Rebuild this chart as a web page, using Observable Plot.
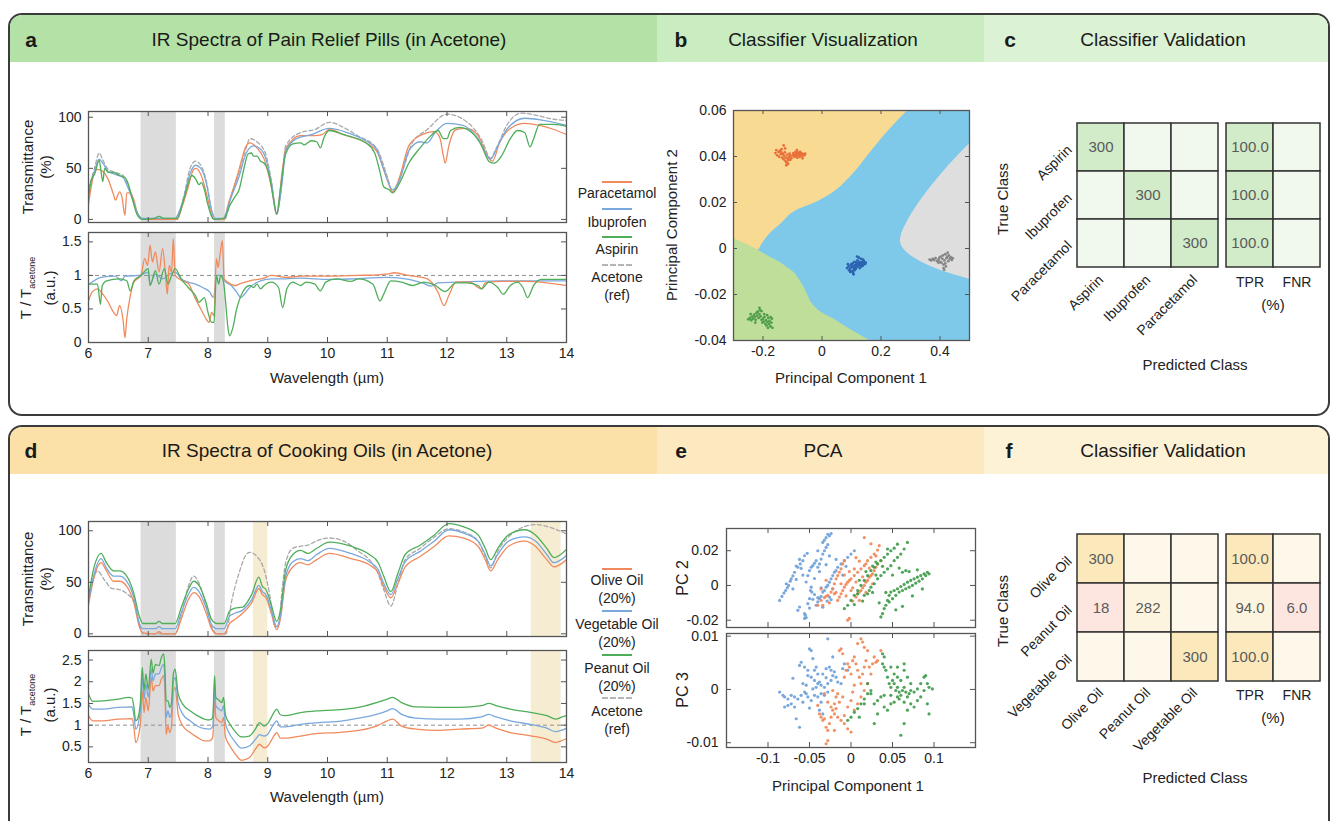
<!DOCTYPE html>
<html><head><meta charset="utf-8">
<script src="https://cdn.jsdelivr.net/npm/d3@7"></script>
<script src="https://cdn.jsdelivr.net/npm/@observablehq/plot@0.6"></script>
<style>
body{margin:0;width:1331px;height:821px;overflow:hidden;background:#fff;font-family:"Liberation Sans",Arial,sans-serif;color:#1a1a1a;position:relative}
.box{position:absolute;box-sizing:border-box;border:2px solid #3b3b3b;border-radius:14px;overflow:hidden;background:#fff}
.band{position:absolute;top:0;height:47px}
.hd{position:absolute;font-size:19px;transform:translate(-50%,-50%);white-space:nowrap}
.lt{position:absolute;font-size:21px;font-weight:bold;transform:translate(-50%,-50%)}
.lab{position:absolute;font-size:15px;white-space:nowrap;transform:translate(-50%,-50%);text-align:center;line-height:18px;color:#222}
.rot{transform:translate(-50%,-50%) rotate(-90deg)}
.leg{position:absolute;font-size:14px;white-space:nowrap;transform:translate(-50%,-50%);text-align:center;line-height:18px;color:#222}
.sw{position:absolute;height:0;width:30px;border-top:2px solid}
.chart{position:absolute}
.chart svg{overflow:visible;max-width:none}
sub{font-size:9px}
</style></head><body>
<div id="root"></div>
<script>
// ---------------- DATA ----------------
const xTicksWL = [6,7,8,9,10,11,12,13,14];
const transTicks = [0,50,100];
const ratioTicksA = [0,0.5,1,1.5];
const ratioTicksD = [0.5,1,1.5,2,2.5];
const refLevel = [1];
const shadeGray = [[6.88,7.47],[8.11,8.29]];
const shadeBeige = [[8.76,9.0],[13.41,13.91]];

// Panel a – transmittance (%) : [wavelength, value, ...]
const paracetamolT = [6,15,6.09,44,6.15,49,6.24,47,6.33,39,6.42,24,6.45,19,6.52,27,6.56,22,6.61,4,6.64,26,6.7,26,6.76,19,6.82,6,6.91,0,7.2,0,7.48,0,7.57,13,7.67,32,7.76,49,7.8,50,7.88,44,8.0,19,8.06,4,8.1,0,8.28,0,8.33,13,8.42,29,8.52,49,8.64,72,8.7,75,8.82,70,8.94,59,9.06,32,9.15,5,9.24,46,9.3,69,9.55,82,9.79,82,9.91,83,10.03,88,10.27,83,10.64,75,10.82,67,11.0,39,11.09,27,11.21,42,11.36,72,11.55,82,11.79,86,11.88,80,11.94,62,11.97,55,12.03,72,12.15,88,12.33,89,12.52,82,12.7,60,12.76,57,12.88,75,13.06,89,13.3,94,13.55,92,13.79,88,14,83];
const ibuprofenT = [6,30,6.09,45,6.18,59,6.24,55,6.33,47,6.45,44,6.58,41,6.64,34,6.73,21,6.82,6,6.91,1,7.2,1,7.45,1,7.48,3,7.6,22,7.7,45,7.79,53,7.88,50,7.97,36,8.06,9,8.12,1,8.26,1,8.28,3,8.39,22,8.52,42,8.64,65,8.76,72,8.88,69,8.97,59,9.06,36,9.15,6,9.24,36,9.3,67,9.48,79,9.73,83,10.03,89,10.33,85,10.64,77,10.82,69,10.94,49,11.09,29,11.21,39,11.36,67,11.55,76,11.67,75,11.8,85,12.0,94,12.27,92,12.52,79,12.73,59,12.85,72,13.0,88,13.3,99,13.61,97,14,92];
const aspirinT = [6,22,6.06,41,6.1,44,6.18,58,6.21,47,6.24,37,6.27,50,6.33,46,6.42,46,6.52,43,6.61,41,6.67,34,6.73,21,6.82,4,6.91,0,7.1,1,7.18,3,7.26,1,7.48,1,7.6,21,7.73,43,7.79,40,7.85,34,7.89,36,7.94,29,8.0,14,8.06,3,8.1,0,8.27,1,8.36,13,8.45,22,8.52,29,8.61,52,8.67,64,8.73,65,8.76,62,8.82,62,8.88,57,8.94,55,9.03,42,9.09,22,9.15,5,9.21,29,9.3,64,9.42,74,9.55,75,9.61,73,9.73,77,9.82,76,9.88,70,9.94,80,10.03,87,10.27,83,10.64,75,10.79,65,10.88,46,10.94,32,11.03,29,11.09,26,11.21,36,11.36,55,11.55,70,11.73,82,11.85,87,11.94,79,12.0,79,12.06,87,12.21,90,12.45,83,12.58,72,12.7,57,12.79,55,12.91,62,13.06,79,13.18,87,13.3,85,13.39,71,13.45,79,13.55,93,13.79,93,14,91];
const acetoneTa = [6,30,6.1,50,6.18,65,6.24,58,6.33,49,6.45,46,6.58,43,6.64,36,6.73,22,6.82,6,6.91,0,7.48,0,7.6,24,7.7,50,7.79,57,7.88,53,7.97,38,8.06,9,8.12,0,8.28,0,8.39,24,8.52,46,8.64,70,8.7,79,8.82,76,8.97,63,9.06,38,9.15,5,9.24,38,9.3,72,9.55,85,9.79,88,10.03,95,10.27,90,10.5,82,10.82,70,11.0,42,11.09,27,11.24,45,11.42,75,11.67,88,12.0,103,12.27,98,12.58,78,12.73,60,12.82,69,13.0,92,13.24,104,13.48,102,13.79,98,14,97];

// Panel a – ratio T / T_acetone
const paracetamolR = [6,0.62,6.06,0.75,6.15,0.8,6.24,0.72,6.33,0.6,6.42,0.45,6.47,0.4,6.52,0.55,6.58,0.32,6.61,0.07,6.64,0.35,6.7,0.7,6.76,0.9,6.82,0.95,6.88,1.0,6.94,1.25,6.99,1.15,7.03,1.45,7.07,1.2,7.12,1.35,7.18,1.05,7.24,1.4,7.29,1.0,7.32,0.72,7.35,1.15,7.39,1.05,7.42,1.55,7.45,1.0,7.55,0.93,7.67,0.88,7.79,0.65,7.88,0.5,7.97,0.35,8.02,0.3,8.06,0.45,8.1,0.4,8.14,1.25,8.17,1.12,8.2,1.3,8.24,1.52,8.27,0.95,8.33,0.9,8.45,0.85,8.55,0.88,8.7,0.92,8.94,0.96,9.06,1.0,9.3,0.97,9.55,0.99,10.03,0.99,10.52,1.0,11.0,1.02,11.12,1.04,11.36,1.0,11.67,0.95,11.85,0.75,11.95,0.55,12.03,0.7,12.15,0.9,12.39,0.9,12.52,0.82,12.58,0.8,12.64,0.89,12.94,0.91,13.3,0.91,13.67,0.89,14,0.85];
const ibuprofenR = [6,0.86,6.21,0.97,6.45,0.99,6.55,0.92,6.61,0.99,6.85,1.0,7.0,1.05,7.03,0.87,7.12,1.02,7.24,0.95,7.36,1.02,7.45,1.05,7.55,0.95,7.67,0.9,7.79,0.87,7.91,0.82,8.03,0.75,8.09,0.67,8.15,1.0,8.21,1.0,8.3,0.9,8.39,0.85,8.48,0.75,8.55,0.67,8.61,0.72,8.7,0.82,8.88,0.92,9.06,0.95,9.3,0.95,9.55,0.96,10.03,0.94,10.45,0.95,11.0,0.97,11.36,0.94,11.61,0.88,11.73,0.84,11.85,0.89,12.15,0.9,12.52,0.91,12.88,0.92,13.3,0.92,14,0.92];
const aspirinR = [6,0.87,6.15,0.87,6.2,0.57,6.23,0.85,6.3,0.92,6.52,0.95,6.64,0.92,6.7,0.77,6.76,0.92,6.88,1.0,7.0,1.1,7.03,0.85,7.12,1.07,7.18,0.87,7.27,1.1,7.33,0.87,7.39,1.0,7.45,1.1,7.55,0.95,7.67,0.82,7.79,0.7,7.85,0.6,7.94,0.67,8.0,0.45,8.06,0.3,8.1,0.3,8.14,1.0,8.18,0.87,8.21,1.0,8.26,0.9,8.29,0.65,8.33,0.25,8.36,0.1,8.41,0.2,8.48,0.5,8.58,0.75,8.7,0.85,8.76,0.82,8.82,0.87,8.88,0.8,8.94,0.85,9.06,0.9,9.18,0.82,9.25,0.52,9.32,0.8,9.42,0.9,9.55,0.85,9.64,0.9,9.79,0.87,9.88,0.77,9.97,0.9,10.15,0.95,10.39,0.91,10.52,0.95,10.76,0.87,10.88,0.62,10.94,0.72,11.06,0.92,11.24,0.9,11.42,0.85,11.61,0.9,11.79,0.86,11.97,0.76,12.15,0.89,12.33,0.89,12.52,0.85,12.58,0.8,12.7,0.9,12.85,0.82,12.94,0.72,13.06,0.85,13.18,0.9,13.27,0.82,13.35,0.67,13.45,0.85,13.58,0.94,14,0.94];

// Panel d – transmittance (%)
const oliveT = [6,28,6.09,54,6.21,69,6.3,61,6.42,51,6.52,51,6.64,46,6.76,30,6.85,7,6.91,1,7.12,0,7.18,2,7.24,0,7.45,0,7.55,14,7.67,33,7.76,40,7.85,36,7.97,20,8.06,5,8.15,0,8.27,0,8.36,10,8.45,14,8.58,20,8.73,30,8.85,44,8.91,38,8.97,35,9.06,20,9.15,4,9.21,14,9.3,52,9.42,65,9.55,69,9.67,67,9.82,72,10.03,78,10.39,73,10.7,67,10.85,59,10.94,46,11.06,35,11.18,49,11.3,65,11.55,75,11.79,85,12.03,95,12.27,93,12.52,85,12.64,72,12.73,61,12.85,72,13.03,85,13.3,90,13.48,85,13.67,72,13.79,65,14,72];
const vegT = [6,31,6.09,57,6.21,73,6.3,64,6.42,56,6.52,56,6.64,51,6.76,35,6.85,10,6.91,5,7.12,5,7.18,7,7.24,5,7.45,5,7.55,20,7.67,38,7.76,45,7.85,41,7.97,25,8.06,9,8.15,5,8.27,5,8.36,17,8.45,20,8.58,23,8.73,33,8.85,47,8.91,41,8.97,38,9.06,23,9.15,7,9.21,17,9.3,56,9.42,70,9.55,73,9.67,71,9.82,77,10.03,83,10.39,78,10.7,70,10.85,62,10.94,49,11.06,38,11.18,54,11.3,70,11.55,80,11.79,90,12.03,101,12.27,98,12.52,90,12.64,77,12.73,66,12.85,77,13.03,90,13.3,94,13.48,90,13.67,77,13.79,69,14,76];
const peanutT = [6,36,6.09,64,6.21,78,6.3,69,6.42,61,6.52,61,6.64,56,6.76,39,6.85,17,6.91,10,7.12,10,7.18,12,7.24,10,7.45,10,7.55,25,7.67,43,7.76,51,7.85,47,7.97,30,8.06,14,8.15,10,8.27,10,8.36,22,8.45,25,8.58,26,8.73,38,8.85,55,8.91,46,8.97,43,9.06,28,9.15,12,9.21,22,9.3,62,9.42,77,9.55,81,9.67,78,9.82,83,10.03,89,10.39,85,10.7,77,10.85,69,10.94,56,11.06,41,11.18,59,11.3,77,11.55,86,11.79,96,12.03,107,12.27,104,12.52,96,12.64,83,12.73,72,12.85,83,13.03,96,13.3,101,13.48,96,13.67,83,13.79,74,14,82];
const acetoneTd = [6,33,6.15,61,6.27,52,6.39,44,6.52,43,6.64,39,6.76,31,6.85,10,6.91,0,7.45,0,7.55,17,7.67,46,7.76,56,7.85,49,7.97,27,8.06,7,8.15,0,8.3,0,8.39,30,8.52,59,8.64,77,8.7,79,8.82,75,8.94,62,9.03,39,9.12,7,9.18,7,9.24,43,9.3,69,9.42,83,9.55,85,9.67,86,9.85,91,10.03,93,10.27,90,10.52,80,10.7,72,10.82,62,10.94,43,11.06,27,11.18,49,11.3,72,11.55,83,11.79,94,12.03,102,12.27,99,12.52,90,12.64,75,12.73,64,12.85,80,13.03,94,13.3,104,13.48,106,13.79,102,14,97];

// Panel d – ratio
const peanutR = [6,1.72,6.07,1.55,6.25,1.56,6.5,1.6,6.67,1.64,6.73,1.62,6.76,1.41,6.79,1.1,6.82,1.14,6.87,1.56,6.9,2.33,6.93,1.8,6.96,2.18,7.0,1.83,7.05,2.52,7.08,2.2,7.12,2.4,7.18,2.37,7.22,2.56,7.26,2.64,7.28,2.25,7.3,1.56,7.33,1.56,7.36,1.41,7.39,1.52,7.42,2.18,7.45,2.29,7.5,1.72,7.58,1.48,7.7,1.33,7.82,1.22,7.94,1.14,8.03,1.12,8.08,1.18,8.11,2.14,8.13,1.64,8.18,1.58,8.23,1.52,8.26,1.64,8.29,1.25,8.35,1.06,8.44,0.88,8.56,0.73,8.69,0.75,8.81,0.95,8.86,1.06,8.94,0.98,9.0,1.04,9.06,1.18,9.12,1.33,9.15,1.37,9.21,1.24,9.3,1.22,9.55,1.29,9.85,1.33,10.15,1.35,10.52,1.41,10.82,1.52,11.0,1.6,11.09,1.64,11.24,1.52,11.48,1.42,11.85,1.41,12.21,1.41,12.58,1.45,12.7,1.5,12.82,1.45,13.06,1.37,13.42,1.29,13.67,1.22,13.82,1.14,13.91,1.18,14,1.22];
const vegR = [6,1.48,6.07,1.37,6.25,1.37,6.5,1.41,6.73,1.42,6.76,1.22,6.79,0.91,6.87,1.37,6.9,2.1,6.93,1.6,6.96,1.95,7.0,1.64,7.05,2.29,7.08,2.02,7.12,2.18,7.18,2.18,7.22,2.33,7.26,2.4,7.28,2.02,7.3,1.18,7.33,1.33,7.36,1.18,7.39,1.29,7.42,2.02,7.45,2.1,7.5,1.52,7.58,1.25,7.7,1.1,7.82,0.98,7.94,0.92,8.03,0.91,8.08,0.98,8.11,1.87,8.13,1.45,8.18,1.37,8.23,1.33,8.26,1.45,8.29,1.06,8.35,0.83,8.44,0.64,8.56,0.47,8.69,0.52,8.81,0.7,8.86,0.78,8.94,0.75,9.0,0.79,9.06,0.93,9.12,1.06,9.15,1.1,9.21,0.96,9.3,0.96,9.55,1.02,9.85,1.06,10.15,1.08,10.52,1.16,10.82,1.25,11.0,1.33,11.09,1.38,11.24,1.25,11.48,1.16,11.85,1.14,12.21,1.14,12.58,1.19,12.7,1.25,12.82,1.19,13.06,1.1,13.42,1.01,13.67,0.93,13.82,0.85,13.91,0.88,14,0.93];
const oliveR = [6,1.22,6.07,1.1,6.25,1.1,6.5,1.14,6.73,1.15,6.76,0.95,6.79,0.6,6.87,1.06,6.9,1.79,6.93,1.29,6.96,1.64,7.0,1.33,7.05,2.1,7.08,1.79,7.12,1.91,7.18,1.91,7.22,2.06,7.26,2.14,7.28,1.72,7.3,0.79,7.33,0.98,7.36,0.83,7.39,0.98,7.42,1.79,7.45,1.87,7.5,1.25,7.58,0.98,7.7,0.83,7.82,0.72,7.94,0.64,8.03,0.64,8.08,0.72,8.11,1.68,8.13,1.18,8.18,1.1,8.23,1.06,8.26,1.18,8.29,0.75,8.35,0.56,8.44,0.37,8.56,0.19,8.69,0.25,8.81,0.48,8.86,0.56,8.94,0.48,9.0,0.52,9.06,0.65,9.12,0.79,9.15,0.83,9.21,0.7,9.3,0.7,9.55,0.75,9.85,0.81,10.15,0.83,10.52,0.88,10.82,0.98,11.0,1.1,11.09,1.14,11.24,0.98,11.48,0.91,11.85,0.88,12.21,0.91,12.58,0.93,12.7,1.0,12.82,0.93,13.06,0.83,13.42,0.75,13.67,0.68,13.82,0.6,13.91,0.64,14,0.69];

// Panel b – decision regions (boundary points) and sample clusters
const pc1TicksB = [-0.2,0,0.2,0.4];
const pc2TicksB = [-0.04,-0.02,0,0.02,0.04,0.06];
const orangeEdge = [[-0.0007,-0.214],[0.0058,-0.181],[0.0109,-0.137],[0.0168,-0.082],[0.0197,-0.027],[0.0234,0.027],[0.0307,0.093],[0.0409,0.159],[0.0511,0.225],[0.06,0.291]]; // [pc2, pc1]
const greenEdge = [[-0.3,0.0042],[-0.25,0.0015],[-0.211,-0.0012],[-0.18,-0.0035],[-0.146,-0.0058],[-0.115,-0.0085],[-0.092,-0.0109],[-0.072,-0.0145],[-0.059,-0.0174],[-0.046,-0.021],[-0.038,-0.0232],[0.05,-0.0315],[0.162,-0.04]]; // [pc1, pc2]
const grayEdge = [[-0.0134,0.5],[-0.0095,0.401],[-0.0058,0.335],[-0.0015,0.286],[0.0022,0.267],[0.0058,0.269],[0.0146,0.302],[0.0248,0.357],[0.035,0.423],[0.0455,0.5]]; // [pc2, pc1]
const paracetamolPts = [[-0.158,0.0415],[-0.152,0.0405],[-0.148,0.042],[-0.145,0.0398],[-0.142,0.0425],[-0.14,0.041],[-0.137,0.0432],[-0.135,0.0395],[-0.132,0.041],[-0.13,0.0388],[-0.128,0.0402],[-0.126,0.0418],[-0.124,0.038],[-0.122,0.0395],[-0.12,0.0375],[-0.118,0.0408],[-0.116,0.039],[-0.114,0.0385],[-0.112,0.0398],[-0.11,0.0412],[-0.107,0.0402],[-0.104,0.0392],[-0.1,0.0405],[-0.097,0.0415],[-0.094,0.0398],[-0.092,0.0408],[-0.09,0.042],[-0.088,0.0402],[-0.086,0.0412],[-0.084,0.0395],[-0.082,0.0418],[-0.08,0.0405],[-0.078,0.0412],[-0.076,0.0398],[-0.074,0.042],[-0.072,0.0408],[-0.07,0.0415],[-0.067,0.0402],[-0.064,0.041],[-0.06,0.0405],[-0.057,0.0412],[-0.13,0.0448],[-0.125,0.0435],[-0.118,0.0372],[-0.115,0.0368],[-0.138,0.0418],[-0.108,0.0385],[-0.096,0.0405],[-0.155,0.0428],[-0.121,0.0362],[-0.085,0.0428],[-0.066,0.0392]];
const ibuprofenPts = [[0.085,-0.0085],[0.09,-0.0078],[0.092,-0.0095],[0.095,-0.0088],[0.098,-0.0072],[0.1,-0.0082],[0.102,-0.0098],[0.104,-0.0065],[0.106,-0.0078],[0.108,-0.0088],[0.11,-0.0058],[0.112,-0.0072],[0.114,-0.0082],[0.116,-0.0062],[0.118,-0.007],[0.12,-0.0052],[0.122,-0.0078],[0.124,-0.0065],[0.126,-0.0058],[0.128,-0.0072],[0.13,-0.0062],[0.132,-0.0045],[0.134,-0.0068],[0.136,-0.0058],[0.138,-0.0075],[0.14,-0.0062],[0.142,-0.0055],[0.145,-0.0068],[0.148,-0.0062],[0.105,-0.0105],[0.11,-0.0095],[0.115,-0.0088],[0.125,-0.004],[0.119,-0.0035],[0.1,-0.0068],[0.096,-0.0102],[0.128,-0.0085],[0.133,-0.0078],[0.121,-0.0066],[0.117,-0.0079],[0.088,-0.0068],[0.139,-0.0048],[0.107,-0.0112]];
const aspirinPts = [[-0.25,-0.0308],[-0.245,-0.0302],[-0.24,-0.0312],[-0.237,-0.0296],[-0.234,-0.0305],[-0.23,-0.0288],[-0.228,-0.0298],[-0.225,-0.031],[-0.222,-0.028],[-0.22,-0.0292],[-0.218,-0.0275],[-0.215,-0.0302],[-0.212,-0.0285],[-0.21,-0.0268],[-0.208,-0.0295],[-0.205,-0.031],[-0.202,-0.0322],[-0.2,-0.0305],[-0.198,-0.0318],[-0.195,-0.0298],[-0.192,-0.0328],[-0.19,-0.0312],[-0.188,-0.0335],[-0.185,-0.032],[-0.182,-0.0302],[-0.18,-0.0328],[-0.178,-0.0315],[-0.175,-0.0338],[-0.172,-0.0322],[-0.17,-0.0305],[-0.168,-0.0345],[-0.212,-0.0258],[-0.205,-0.0272],[-0.196,-0.0285],[-0.186,-0.029],[-0.174,-0.0298],[-0.242,-0.0285],[-0.226,-0.0322],[-0.183,-0.0345]];
const acetonePts = [[0.365,-0.0048],[0.37,-0.0052],[0.375,-0.0045],[0.38,-0.005],[0.385,-0.0042],[0.39,-0.0055],[0.395,-0.0048],[0.398,-0.004],[0.4,-0.0058],[0.403,-0.0035],[0.405,-0.0062],[0.408,-0.0045],[0.41,-0.003],[0.412,-0.007],[0.415,-0.0052],[0.418,-0.0025],[0.42,-0.0078],[0.422,-0.0042],[0.425,-0.0035],[0.428,-0.0055],[0.43,-0.003],[0.433,-0.0045],[0.436,-0.0038],[0.44,-0.005],[0.443,-0.0042],[0.412,-0.0085],[0.418,-0.0065],[0.395,-0.0062],[0.426,-0.0018],[0.414,-0.0092]];

// Panel c / f – confusion matrices
const pillClasses = ["Aspirin","Ibuprofen","Paracetamol"];
const pillCounts = [[300,0,0],[0,300,0],[0,0,300]];
const pillTPR = [100.0,100.0,100.0];
const pillFNR = [0,0,0];
const oilClasses = ["Olive Oil","Peanut Oil","Vegetable Oil"];
const oilCounts = [[300,0,0],[18,282,0],[0,0,300]];
const oilTPR = [100.0,94.0,100.0];
const oilFNR = [0,6.0,0];
const rateCols = ["TPR","FNR"];

// Panel e – PCA scores
const pcETicksX = [-0.1,-0.05,0,0.05,0.1];
const pc2TicksE = [-0.02,0,0.02];
const pc3TicksE = [-0.01,0,0.01];
const vegPC2 = [[-0.086,-0.0086],[-0.0832,-0.0063],[-0.0808,-0.0044],[-0.0788,-0.0029],[-0.0768,-0.0013],[-0.0752,0],[-0.0732,0.0025],[-0.072,0.0038],[-0.07,0.0055],[-0.068,0.0076],[-0.064,0.0105],[-0.0612,0.0124],[-0.058,0.0143],[-0.056,0.0171],[-0.0528,0.0185],[-0.064,-0.0143],[-0.062,-0.0124],[-0.056,-0.0162],[-0.054,-0.0185],[-0.052,-0.0105],[-0.05,-0.0076],[-0.0488,-0.0029],[-0.048,-0.001],[-0.0472,-0.0038],[-0.052,0.0057],[-0.05,0.0086],[-0.048,0.0105],[-0.046,0.0114],[-0.044,0.0128],[-0.042,0.0143],[-0.04,0.0105],[-0.038,0.0124],[-0.036,0.0152],[-0.034,0.0181],[-0.032,0.02],[-0.03,0.0219],[-0.034,0.0248],[-0.032,0.0261],[-0.03,0.0276],[-0.028,0.0295],[-0.026,0.0286],[-0.024,0.0299],[-0.042,-0.0114],[-0.04,-0.0095],[-0.038,-0.0076],[-0.036,-0.0063],[-0.034,-0.0038],[-0.032,-0.0029],[-0.03,-0.001],[-0.028,0],[-0.026,0.0019],[-0.024,0.0038],[-0.022,0.0057],[-0.02,0.0076],[-0.018,0.0086],[-0.016,0.0105],[-0.012,0.0124],[-0.008,0.0143],[-0.004,0.0162],[0,0.0181],[0.004,0.02],[-0.026,-0.0067],[-0.024,-0.0082],[-0.0288,-0.009],[-0.04,-0.007],[-0.036,-0.0013],[-0.056,-0.019],[-0.055,-0.0171],[-0.066,0.0112],[-0.06,0.0098],[-0.044,-0.0052],[-0.028,0.0235],[-0.078,0.001],[-0.07,-0.002],[-0.066,0.0035],[-0.058,0.006],[-0.054,0.002],[-0.046,-0.008],[-0.044,0.004],[-0.038,0.008],[-0.034,-0.0125],[-0.03,0.012],[-0.022,-0.002],[-0.018,0.015],[-0.01,0.006],[-0.006,0.011],[-0.05,-0.013],[-0.062,0.015],[-0.04,0.02],[-0.026,0.017]];
const olivePC2 = [[-0.04,-0.0114],[-0.036,-0.0086],[-0.032,-0.007],[-0.028,-0.0057],[-0.024,-0.0038],[-0.022,-0.0019],[-0.02,0.001],[-0.018,0.0038],[-0.016,0.0057],[-0.014,0.0076],[-0.012,0.0095],[-0.01,0.0124],[-0.008,0.0143],[-0.016,-0.0086],[-0.014,-0.0067],[-0.012,-0.0048],[-0.01,-0.0029],[-0.008,-0.001],[-0.006,0.0006],[-0.004,0.0019],[-0.002,0.0029],[0,0.0038],[0.004,0.0057],[0.008,0.0076],[0.012,0.0095],[0.016,0.0114],[0.02,0.0143],[0.024,0.0162],[0.028,0.0181],[0.032,0.0204],[0.034,0.0229],[0.006,-0.0067],[0.008,-0.0048],[0.01,-0.0038],[0.012,-0.0029],[0.014,-0.0013],[0.016,0],[0.018,0.0019],[0.02,0.0029],[0.022,0.0048],[0.024,0.0057],[0.026,0.0067],[0.028,0.0086],[0.03,0.0105],[0.032,0.0124],[0.036,0.0143],[-0.004,-0.02],[-0.002,-0.019],[0.016,0.0276],[0,-0.0029],[0.002,-0.0013],[0.01,-0.0086],[-0.034,-0.0114],[-0.03,-0.0062],[-0.02,-0.0048],[0.018,0.0125],[0.004,0.0095],[-0.036,-0.002],[-0.03,0.003],[-0.026,-0.01],[-0.018,-0.004],[-0.012,0.001],[-0.006,-0.006],[-0.002,0.008],[0.002,-0.009],[0.006,0.002],[0.01,0.014],[0.014,0.005],[0.018,-0.004],[0.022,0.01],[0.026,0.001],[0.03,0.017],[0.006,0.016],[-0.008,0.006],[0.024,0.024]];
const peanutPC2 = [[-0.008,-0.0133],[-0.004,-0.0114],[0,-0.0086],[0.004,-0.0057],[0.008,-0.0029],[0.012,0],[0.016,0.0029],[0.02,0.0057],[0.024,0.0086],[0.028,0.0105],[0.032,0.0124],[0.036,0.0143],[0.04,0.0162],[0.044,0.0181],[0.048,0.02],[0.052,0.0215],[0.056,0.0238],[0.068,0.0248],[0.016,-0.0057],[0.02,-0.0048],[0.022,-0.0029],[0.024,-0.001],[0.028,0.001],[0.032,0.0038],[0.036,0.0057],[0.04,0.0076],[0.044,0.0095],[0.048,0.0114],[0.052,0.0143],[0.056,0.0162],[0.06,0.0181],[0.064,0.021],[0.036,-0.0181],[0.038,-0.0162],[0.04,-0.0133],[0.042,-0.0114],[0.044,-0.0086],[0.046,-0.0057],[0.048,-0.0038],[0.052,-0.0029],[0.056,-0.0019],[0.06,-0.0006],[0.064,0.0006],[0.068,0.0019],[0.072,0.0029],[0.076,0.0038],[0.08,0.0048],[0.084,0.0057],[0.088,0.0067],[0.092,0.0076],[0.046,-0.0095],[0.05,-0.0076],[0.054,-0.0057],[0.058,-0.0038],[0.062,-0.0029],[0.066,-0.0019],[0.07,-0.001],[0.074,0],[0.078,0.0013],[0.082,0.0025],[0.086,0.0038],[0.09,0.0057],[0.094,0.0067],[0.062,0.0076],[0.066,0.0086],[0.008,-0.0048],[0.026,0.0112],[0.03,0.0135],[0.004,-0.011],[0.01,0.003],[0.014,-0.009],[0.018,0.008],[0.026,-0.004],[0.03,0.006],[0.034,-0.01],[0.038,0.011],[0.042,-0.004],[0.05,0.006],[0.054,-0.014],[0.058,0.01],[0.062,-0.012],[0.07,0.008],[0.074,-0.006],[0.08,0.009],[0.086,-0.002],[0.044,0.021]];
const vegPC3 = [[-0.086,-0.0005],[-0.082,-0.0011],[-0.08,-0.0014],[-0.076,-0.0018],[-0.072,-0.0011],[-0.068,-0.0014],[-0.064,-0.0018],[-0.06,-0.0011],[-0.056,-0.0005],[-0.052,-0.0014],[-0.048,-0.0021],[-0.044,-0.0011],[-0.04,-0.0014],[-0.036,-0.0008],[-0.032,-0.0011],[-0.028,-0.0005],[-0.066,-0.0055],[-0.062,-0.0071],[-0.052,0.0036],[-0.05,0.0076],[-0.048,0.0073],[-0.062,0.0045],[-0.06,0.0051],[-0.056,0.0042],[-0.052,0.0026],[-0.048,0.0023],[-0.044,0.0017],[-0.04,0.0011],[-0.036,0.0008],[-0.032,0.0004],[-0.028,0.0011],[-0.024,0.0017],[-0.022,0.0026],[-0.02,0.0033],[-0.018,0.0023],[-0.016,0.0014],[-0.012,0.0011],[-0.038,-0.0039],[-0.036,-0.0024],[-0.044,0.0036],[-0.042,0.0042],[-0.04,0.0029],[-0.034,0.0029],[-0.03,0.0039],[-0.026,0.0042],[-0.024,0.0036],[-0.01,0.0039],[-0.008,0.0048],[-0.004,0.0036],[-0.022,0.0061],[-0.072,-0.0027],[-0.068,-0.0033],[-0.058,0.0011],[-0.054,0.0008],[-0.046,0.0001],[-0.042,0.0004],[-0.038,0.0014],[-0.028,0.0095],[-0.08,-0.0033],[-0.076,-0.003],[-0.058,-0.0024],[-0.05,-0.0035],[-0.07,0.0021],[-0.046,0.0058],[-0.034,-0.0046],[-0.03,0.0022],[-0.054,-0.0008]];
const olivePC3 = [[-0.04,-0.003],[-0.038,-0.0046],[-0.036,-0.0052],[-0.034,-0.0058],[-0.032,-0.0055],[-0.03,-0.0071],[-0.028,-0.0077],[-0.026,-0.0064],[-0.024,-0.0052],[-0.022,-0.0039],[-0.02,-0.0027],[-0.018,-0.0014],[-0.016,-0.0008],[-0.014,0.0073],[-0.012,0.0076],[-0.01,0.0067],[-0.008,0.0023],[-0.006,0.0036],[-0.004,0.0048],[-0.002,0.0042],[0,0.0029],[0.002,0.0054],[0.004,0.0061],[0.006,0.0048],[0.008,0.0036],[0.01,0.0023],[0.012,0.0011],[0.014,0.0029],[0.016,0.0042],[0.018,0.0054],[0.02,0.0073],[0.022,0.0042],[0.024,0.0029],[0.026,0.0048],[0.028,0.0061],[0.03,0.0051],[0.032,0.0054],[0.012,0.0095],[0.014,0.0089],[0.016,0.0079],[0.008,0.0086],[-0.032,-0.0008],[-0.028,-0.0024],[-0.024,-0.0033],[-0.02,-0.0046],[-0.016,-0.0052],[-0.012,-0.0058],[-0.008,-0.0064],[-0.004,-0.0074],[0,-0.008],[0.004,-0.0039],[0.008,-0.0027],[0.012,-0.0014],[0.016,-0.0002],[0.02,0.0011],[-0.03,-0.0102],[-0.028,-0.0096],[-0.02,-0.0077],[-0.008,-0.0049],[-0.004,-0.0033],[0,-0.0021],[0.002,-0.0005],[0.004,0.0008],[-0.022,-0.0002],[-0.018,-0.0036],[-0.014,-0.0024],[-0.01,-0.0014],[0.036,0.0073]];
const peanutPC3 = [[-0.004,-0.0058],[0,-0.0052],[0.004,-0.0043],[0.008,-0.0036],[0.012,-0.0027],[0.016,-0.0018],[0.02,-0.0008],[0.024,-0.0002],[0.028,-0.0027],[0.032,-0.0021],[0.038,0.0067],[0.04,0.0061],[0.04,0.0042],[0.042,0.0036],[0.044,0.0023],[0.046,0.0011],[0.048,0.0004],[0.05,0.0017],[0.052,0.0011],[0.054,-0.0002],[0.056,0.0004],[0.058,-0.0005],[0.06,-0.0011],[0.062,-0.0002],[0.064,0.0004],[0.066,-0.0005],[0.068,-0.0014],[0.07,-0.0008],[0.072,-0.0002],[0.076,-0.0005],[0.08,0.0001],[0.084,0.0011],[0.088,0.0023],[0.09,0.0026],[0.092,0.0011],[0.094,0.0004],[0.098,0.0001],[0.092,-0.0027],[0.094,-0.0046],[0.068,-0.0039],[0.064,-0.0064],[0.06,-0.0086],[0.04,-0.0033],[0.044,-0.0039],[0.036,-0.0014],[0.032,-0.0046],[0.028,-0.0064],[0.024,-0.0008],[0.02,0.0011],[0.016,-0.0027],[0.048,0.0042],[0.052,0.0029],[0.056,0.0023],[0.06,0.0017],[0.064,0.0036],[0.068,0.0023],[0.072,0.0011],[0.056,0.0042],[0.064,0.0048],[0.072,-0.0027],[0.076,-0.0033],[0.08,-0.0021],[0.084,-0.0014],[0.048,-0.0027],[0.052,-0.0024],[0.058,-0.0018],[0.064,-0.0024],[0.04,-0.0011],[0.048,-0.0011],[0.056,-0.0014],[0.088,-0.0002],[0.01,-0.0052],[0.038,0.0048]];

// ---------------- HELPERS ----------------
const FONT = '"Liberation Sans", Arial, sans-serif';
const C = {orange:"#f08a5d", blue:"#7aa8dc", green:"#4fae5a", ace:"#a9a9a9"};
const root = document.getElementById("root");
const pairs = a => { const r = []; for (let i = 0; i < a.length; i += 2) r.push({x: a[i], y: a[i+1]}); return r; };
const str = d => String(d);

function place(svg, left, top) {
  const div = document.createElement("div");
  div.className = "chart";
  div.style.left = left + "px"; div.style.top = top + "px";
  div.appendChild(svg);
  root.appendChild(div);
}

function frameTicks(xt, yt, fw, fh, len = 5) {
  const s = {stroke: "#555", strokeWidth: 1};
  const m = [];
  if (xt) {
    m.push(Plot.tickX(xt, {x: d => d, insetTop: fh - len, ...s}));
    m.push(Plot.tickX(xt, {x: d => d, insetBottom: fh - len, ...s}));
  }
  if (yt) {
    m.push(Plot.tickY(yt, {y: d => d, insetRight: fw - len, ...s}));
    m.push(Plot.tickY(yt, {y: d => d, insetLeft: fw - len, ...s}));
  }
  return m;
}

function spectrum({frameTop, frameH, yDomain, yTicks, curves, shades, showX, ref}) {
  const fw = 478, mL = 45, mR = 8, mT = 6, mB = showX ? 28 : 6;
  const marks = [];
  for (const s of shades) marks.push(Plot.barX(s.data, {x1: d => d[0], x2: d => d[1], fill: s.color}));
  if (ref) marks.push(Plot.ruleY(ref, {stroke: "#8f8f8f", strokeDasharray: "4,3", strokeWidth: 1}));
  for (const c of curves) marks.push(Plot.line(pairs(c.data), {x: "x", y: "y", stroke: c.color, strokeWidth: 1.3, strokeDasharray: c.dash, curve: "monotone-x", clip: true}));
  marks.push(Plot.frame({stroke: "#555", strokeWidth: 1.3}));
  marks.push(...frameTicks(xTicksWL, yTicks, fw, frameH, 5));
  marks.push(Plot.axisY(yTicks, {tickSize: 0, tickPadding: 7, tickFormat: str, label: null}));
  if (showX) marks.push(Plot.axisX(xTicksWL, {tickSize: 0, tickPadding: 6, tickFormat: str, label: null}));
  const svg = Plot.plot({
    width: mL + fw + mR, height: mT + frameH + mB,
    marginLeft: mL, marginRight: mR, marginTop: mT, marginBottom: mB,
    x: {domain: [6, 14], axis: showX ? undefined : null}, y: {domain: yDomain},
    style: {fontFamily: FONT, fontSize: "14px", color: "#222", background: "none"},
    marks
  });
  place(svg, 88 - mL, frameTop - mT);
}

// ---------------- PANEL a ----------------
spectrum({frameTop: 111, frameH: 111, yDomain: [-3, 105.6], yTicks: transTicks,
  shades: [{data: shadeGray, color: "#dcdcdc"}],
  curves: [
    {data: acetoneTa, color: C.ace, dash: "4,2.5"},
    {data: paracetamolT, color: C.orange},
    {data: ibuprofenT, color: C.blue},
    {data: aspirinT, color: C.green}
  ]});
spectrum({frameTop: 232, frameH: 110, yDomain: [0, 1.64], yTicks: ratioTicksA, showX: true, ref: refLevel,
  shades: [{data: shadeGray, color: "#dcdcdc"}],
  curves: [
    {data: ibuprofenR, color: C.blue},
    {data: paracetamolR, color: C.orange},
    {data: aspirinR, color: C.green}
  ]});

// ---------------- PANEL d ----------------
spectrum({frameTop: 521, frameH: 115, yDomain: [-2.6, 109], yTicks: transTicks,
  shades: [{data: shadeGray, color: "#dcdcdc"}, {data: shadeBeige, color: "#f6ecd2"}],
  curves: [
    {data: acetoneTd, color: C.ace, dash: "4,2.5"},
    {data: oliveT, color: C.orange},
    {data: vegT, color: C.blue},
    {data: peanutT, color: C.green}
  ]});
spectrum({frameTop: 650, frameH: 112, yDomain: [0.14, 2.72], yTicks: ratioTicksD, showX: true, ref: refLevel,
  shades: [{data: shadeGray, color: "#dcdcdc"}, {data: shadeBeige, color: "#f6ecd2"}],
  curves: [
    {data: oliveR, color: C.orange},
    {data: vegR, color: C.blue},
    {data: peanutR, color: C.green}
  ]});

// ---------------- PANEL b ----------------
{
  const fw = 236, fh = 230, mL = 55, mR = 6, mT = 6, mB = 28;
  const xd = [-0.3, 0.5], yd = [-0.04, 0.06];
  const svg = Plot.plot({
    width: mL + fw + mR, height: mT + fh + mB, marginLeft: mL, marginRight: mR, marginTop: mT, marginBottom: mB,
    x: {domain: xd}, y: {domain: yd},
    style: {fontFamily: FONT, fontSize: "14px", color: "#222", background: "none"},
    marks: [
      Plot.frame({fill: "#7ec9e9", stroke: null}),
      Plot.areaX(orangeEdge, {y: d => d[0], x1: () => xd[0], x2: d => d[1], fill: "#f9da93", curve: "monotone-y"}),
      Plot.areaY(greenEdge, {x: d => d[0], y1: () => yd[0], y2: d => d[1], fill: "#bfde9a", curve: "monotone-x"}),
      Plot.areaX(grayEdge, {y: d => d[0], x1: d => d[1], x2: () => xd[1], fill: "#dedede", curve: "catmull-rom"}),
      Plot.dot(paracetamolPts, {x: d => d[0], y: d => d[1], r: 1.4, fill: "#e8703a"}),
      Plot.dot(ibuprofenPts, {x: d => d[0], y: d => d[1], r: 1.4, fill: "#2b63b0"}),
      Plot.dot(aspirinPts, {x: d => d[0], y: d => d[1], r: 1.4, fill: "#4f9e4c"}),
      Plot.dot(acetonePts, {x: d => d[0], y: d => d[1], r: 1.4, fill: "#868686"}),
      Plot.frame({stroke: "#555", strokeWidth: 1.3}),
      ...frameTicks(pc1TicksB, pc2TicksB, fw, fh, 4),
      Plot.axisY(pc2TicksB, {tickSize: 0, tickPadding: 7, tickFormat: str, label: null}),
      Plot.axisX(pc1TicksB, {tickSize: 0, tickPadding: 6, tickFormat: str, label: null})
    ]
  });
  place(svg, 733 - mL, 110 - mT);
}

// ---------------- PANEL e ----------------
function pcaPlot({frameTop, fh, yDomain, yTicks, sets, showX}) {
  const fw = 249, mL = 55, mR = 6, mT = 6, mB = showX ? 28 : 6;
  const marks = [];
  for (const s of sets) marks.push(Plot.dot(s.data, {x: d => d[0], y: d => d[1], r: 1.6, fill: s.color, fillOpacity: 0.9}));
  marks.push(Plot.frame({stroke: "#555", strokeWidth: 1.3}));
  marks.push(...frameTicks(pcETicksX, yTicks, fw, fh, 5));
  marks.push(Plot.axisY(yTicks, {tickSize: 0, tickPadding: 8, tickFormat: str, label: null}));
  if (showX) marks.push(Plot.axisX(pcETicksX, {tickSize: 0, tickPadding: 6, tickFormat: str, label: null}));
  const svg = Plot.plot({
    width: mL + fw + mR, height: mT + fh + mB, marginLeft: mL, marginRight: mR, marginTop: mT, marginBottom: mB,
    x: {domain: [-0.15, 0.15], axis: showX ? undefined : null}, y: {domain: yDomain},
    style: {fontFamily: FONT, fontSize: "14px", color: "#222", background: "none"},
    marks
  });
  place(svg, 726 - mL, frameTop - mT);
}
const EC = {olive: "#ef8555", veg: "#6c9fd9", peanut: "#3c9a48"};
pcaPlot({frameTop: 528, fh: 99, yDomain: [-0.0242, 0.0328], yTicks: pc2TicksE,
  sets: [{data: vegPC2, color: EC.veg}, {data: olivePC2, color: EC.olive}, {data: peanutPC2, color: EC.peanut}]});
pcaPlot({frameTop: 633, fh: 114, yDomain: [-0.0109, 0.0105], yTicks: pc3TicksE, showX: true,
  sets: [{data: vegPC3, color: EC.veg}, {data: olivePC3, color: EC.olive}, {data: peanutPC3, color: EC.peanut}]});

// ---------------- PANELS c & f ----------------
function confusion({classes, counts, tpr, fnr, frameTop, fh, pal}) {
  const cells = [];
  classes.forEach((t, i) => classes.forEach((p, j) => {
    const v = counts[i][j];
    let fill = pal.light;
    if (v > 0) fill = i === j ? (v === d3.sum(counts[i]) ? pal.strong : pal.mid) : pal.pink;
    cells.push({t, p, fill, label: v > 0 ? String(v) : ""});
  }));
  const rates = [];
  classes.forEach((t, i) => {
    rates.push({t, k: rateCols[0], fill: tpr[i] === 100 ? pal.strong : pal.mid, label: tpr[i].toFixed(1)});
    rates.push({t, k: rateCols[1], fill: fnr[i] > 0 ? pal.pink : pal.light, label: fnr[i] > 0 ? fnr[i].toFixed(1) : ""});
  });
  const common = {fontFamily: FONT, fontSize: "14px", color: "#222", background: "none"};
  const mL = 75, mB = 75, mT = 4, mR = 4, fw = 142;
  const m = Plot.plot({
    width: mL + fw + mR, height: mT + fh + mB, marginLeft: mL, marginRight: mR, marginTop: mT, marginBottom: mB,
    x: {domain: classes, padding: 0}, y: {domain: classes, padding: 0},
    color: {type: "identity"}, style: common,
    marks: [
      Plot.cell(cells, {x: "p", y: "t", fill: "fill", stroke: "#333", strokeWidth: 1.5}),
      Plot.text(cells, {x: "p", y: "t", text: "label", fill: "#5a5a5a", fontSize: 15}),
      Plot.axisX({tickRotate: -45, tickSize: 0, tickPadding: 9, label: null}),
      Plot.axisY({tickRotate: -45, tickSize: 0, tickPadding: 7, label: null})
    ]
  });
  place(m, 1076 - mL, frameTop - mT);
  const fw2 = 94, mB2 = 40;
  const r = Plot.plot({
    width: 4 + fw2 + 4, height: mT + fh + mB2, marginLeft: 4, marginRight: 4, marginTop: mT, marginBottom: mB2,
    x: {domain: rateCols, padding: 0}, y: {domain: classes, padding: 0, axis: null},
    color: {type: "identity"}, style: common,
    marks: [
      Plot.cell(rates, {x: "k", y: "t", fill: "fill", stroke: "#333", strokeWidth: 1.5}),
      Plot.text(rates, {x: "k", y: "t", text: "label", fill: "#5a5a5a", fontSize: 15}),
      Plot.axisX({tickSize: 0, tickPadding: 9, label: null})
    ]
  });
  place(r, 1226 - 4, frameTop - mT);
}
confusion({classes: pillClasses, counts: pillCounts, tpr: pillTPR, fnr: pillFNR, frameTop: 122, fh: 146,
  pal: {strong: "#d2ebc9", light: "#f1f8ee", mid: "#e3f2de", pink: "#fde5de"}});
confusion({classes: oilClasses, counts: oilCounts, tpr: oilTPR, fnr: oilFNR, frameTop: 534, fh: 147,
  pal: {strong: "#fce9bb", light: "#fef8ea", mid: "#fdf4df", pink: "#fde6df"}});
</script>

<!-- frames and headers -->
<div class="box" style="left:8px;top:13px;width:1322px;height:403px;z-index:-1">
  <div class="band" style="left:0;width:647px;background:#b4e2a6"></div>
  <div class="band" style="left:647px;width:327px;background:#c9ecc0"></div>
  <div class="band" style="left:974px;width:400px;background:#dbf2d5"></div>
</div>
<div class="box" style="left:8px;top:425px;width:1322px;height:430px;z-index:-1">
  <div class="band" style="left:0;width:647px;background:#fbe0a7"></div>
  <div class="band" style="left:647px;width:327px;background:#fce9c0"></div>
  <div class="band" style="left:974px;width:400px;background:#fdf1d6"></div>
</div>

<div class="lt" style="left:31px;top:40px">a</div>
<div class="hd" style="left:329px;top:40px">IR Spectra of Pain Relief Pills (in Acetone)</div>
<div class="lt" style="left:681px;top:40px">b</div>
<div class="hd" style="left:823px;top:40px">Classifier Visualization</div>
<div class="lt" style="left:1010px;top:40px">c</div>
<div class="hd" style="left:1163px;top:40px">Classifier Validation</div>
<div class="lt" style="left:31px;top:451px">d</div>
<div class="hd" style="left:327px;top:451px">IR Spectra of Cooking Oils (in Acetone)</div>
<div class="lt" style="left:681px;top:451px">e</div>
<div class="hd" style="left:823px;top:451px">PCA</div>
<div class="lt" style="left:1009px;top:451px">f</div>
<div class="hd" style="left:1163px;top:451px">Classifier Validation</div>

<!-- axis titles -->
<div class="lab rot" style="left:37px;top:167px">Transmittance<br>(%)</div>
<div class="lab rot" style="left:38px;top:288px">T / T<sub>acetone</sub><br>(a.u.)</div>
<div class="lab" style="left:327px;top:378px">Wavelength (µm)</div>
<div class="lab rot" style="left:37px;top:579px">Transmittance<br>(%)</div>
<div class="lab rot" style="left:38px;top:705px">T / T<sub>acetone</sub><br>(a.u.)</div>
<div class="lab" style="left:327px;top:797px">Wavelength (µm)</div>
<div class="lab rot" style="left:672px;top:225px">Principal Component 2</div>
<div class="lab" style="left:851px;top:378px">Principal Component 1</div>
<div class="lab rot" style="left:1003px;top:199px">True Class</div>
<div class="lab" style="left:1273px;top:305px">(%)</div>
<div class="lab" style="left:1195px;top:365px">Predicted Class</div>
<div class="lab rot" style="left:683px;top:578px;font-size:16px">PC 2</div>
<div class="lab rot" style="left:683px;top:690px;font-size:16px">PC 3</div>
<div class="lab" style="left:848px;top:786px">Principal Component 1</div>
<div class="lab rot" style="left:1003px;top:611px">True Class</div>
<div class="lab" style="left:1273px;top:718px">(%)</div>
<div class="lab" style="left:1195px;top:778px">Predicted Class</div>

<!-- legends -->
<div class="sw" style="left:602px;top:181px;border-color:#f08a5d"></div>
<div class="leg" style="left:617px;top:193px">Paracetamol</div>
<div class="sw" style="left:602px;top:208px;border-color:#7aa8dc"></div>
<div class="leg" style="left:617px;top:222px">Ibuprofen</div>
<div class="sw" style="left:602px;top:236px;border-color:#4fae5a"></div>
<div class="leg" style="left:617px;top:249px">Aspirin</div>
<div class="sw" style="left:602px;top:264px;border-top:2px dashed #b5b5b5"></div>
<div class="leg" style="left:617px;top:286px">Acetone<br>(ref)</div>

<div class="sw" style="left:602px;top:568px;border-color:#f08a5d"></div>
<div class="leg" style="left:617px;top:589px">Olive Oil<br>(20%)</div>
<div class="sw" style="left:602px;top:610px;border-color:#7aa8dc"></div>
<div class="leg" style="left:617px;top:633px">Vegetable Oil<br>(20%)</div>
<div class="sw" style="left:602px;top:654px;border-color:#4fae5a"></div>
<div class="leg" style="left:617px;top:677px">Peanut Oil<br>(20%)</div>
<div class="sw" style="left:602px;top:697px;border-top:2px dashed #b5b5b5"></div>
<div class="leg" style="left:617px;top:720px">Acetone<br>(ref)</div>
</body></html>
